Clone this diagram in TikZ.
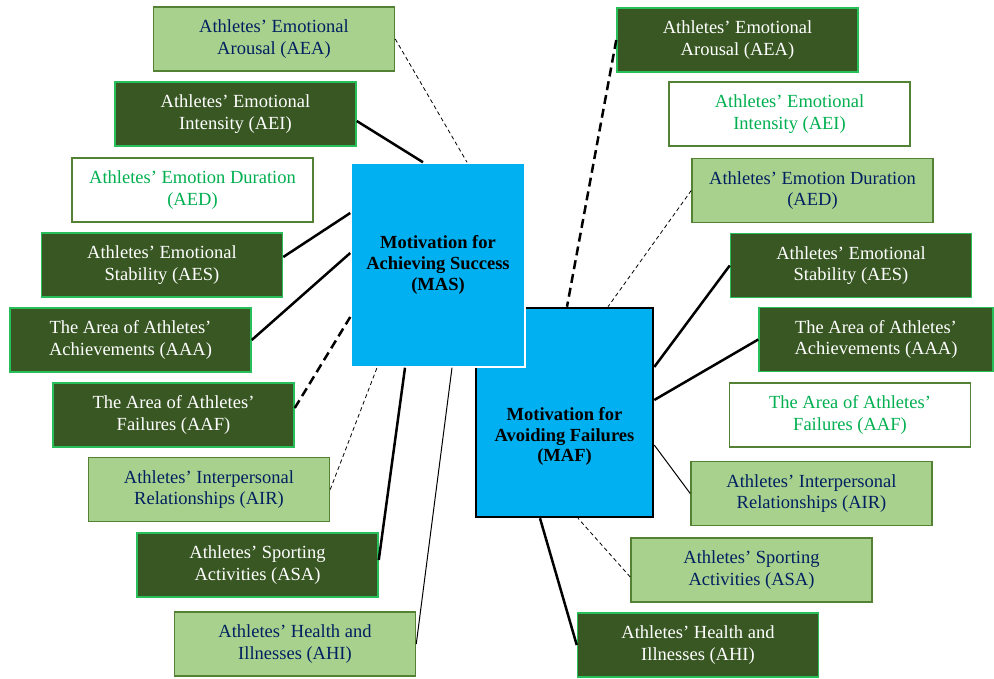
\documentclass[tikz,border=0pt]{standalone}
\usepackage{fontspec}
\setmainfont{Liberation Serif}
\definecolor{boxDark}{RGB}{56,87,35}
\definecolor{boxLight}{RGB}{169,209,142}
\definecolor{edgeBright}{RGB}{40,190,90}
\definecolor{edgeOlive}{RGB}{84,130,53}
\definecolor{inkNavy}{RGB}{0,32,96}
\definecolor{inkGreen}{RGB}{0,176,80}
\definecolor{coreBlue}{RGB}{0,176,240}
\tikzset{
  factor/.style={rectangle, minimum width=241pt, minimum height=64pt, inner sep=0pt, align=center, line width=1.5pt, font=\fontsize{18.5}{21.7}\selectfont},
  darkbox/.style={factor, draw=edgeBright, fill=boxDark, text=white},
  lightbox/.style={factor, draw=edgeOlive, fill=boxLight, text=inkNavy},
  plainbox/.style={factor, draw=edgeOlive, fill=white, text=inkGreen},
  corebox/.style={rectangle, inner sep=0pt, align=center, fill=coreBlue, font=\bfseries\fontsize{18.5}{20.8}\selectfont},
  strongline/.style={line width=2.5pt},
  weakline/.style={line width=1pt},
  strongdash/.style={line width=2.5pt, dash pattern=on 9pt off 5pt},
  weakdash/.style={line width=0.8pt, dash pattern=on 4pt off 3pt}
}

\begin{document}
\begin{tikzpicture}[x=1pt, y=-1pt]
  \useasboundingbox (0,0) rectangle (994,679);
  % core motives
  \node[corebox, draw=black, line width=2.5pt, minimum width=177pt, minimum height=209pt,
        label={[font=\bfseries\fontsize{18.5}{20.8}\selectfont, align=center, yshift=-24pt]center:Motivation for\\Avoiding Failures\\(MAF)}] (MAF) at (564.5,412.5) {};
  \node[corebox, draw=white, line width=1.5pt, minimum width=174pt, minimum height=204pt] (MAS) at (438,265) {Motivation for\\Achieving Success\\(MAS)};
  % left factors
  \node[lightbox] (lAEA) at (274,39) {Athletes’ Emotional\\Arousal (AEA)};
  \node[darkbox] (lAEI) at (235.5,114) {Athletes’ Emotional\\Intensity (AEI)};
  \node[plainbox] (lAED) at (192.5,190) {Athletes’ Emotion Duration\\(AED)};
  \node[darkbox] (lAES) at (162,265) {Athletes’ Emotional\\Stability (AES)};
  \node[darkbox] (lAAA) at (130.5,340) {The Area of Athletes’\\Achievements (AAA)};
  \node[darkbox] (lAAF) at (173.5,415) {The Area of Athletes’\\Failures (AAF)};
  \node[lightbox] (lAIR) at (209,489.5) {Athletes’ Interpersonal\\Relationships (AIR)};
  \node[darkbox] (lASA) at (257.5,565) {Athletes’ Sporting\\Activities (ASA)};
  \node[lightbox] (lAHI) at (295,644) {Athletes’ Health and\\Illnesses (AHI)};
  % right factors
  \node[darkbox] (rAEA) at (737.5,40) {Athletes’ Emotional\\Arousal (AEA)};
  \node[plainbox] (rAEI) at (789.5,114) {Athletes’ Emotional\\Intensity (AEI)};
  \node[lightbox] (rAED) at (812.5,190.5) {Athletes’ Emotion Duration\\(AED)};
  \node[darkbox] (rAES) at (851,265.5) {Athletes’ Emotional\\Stability (AES)};
  \node[darkbox, minimum width=234pt] (rAAA) at (876,339.5) {The Area of Athletes’\\Achievements (AAA)};
  \node[plainbox] (rAAF) at (850,415) {The Area of Athletes’\\Failures (AAF)};
  \node[lightbox] (rAIR) at (811.5,493.5) {Athletes’ Interpersonal\\Relationships (AIR)};
  \node[lightbox] (rASA) at (751.5,570) {Athletes’ Sporting\\Activities (ASA)};
  \node[darkbox] (rAHI) at (698,645) {Athletes’ Health and\\Illnesses (AHI)};
  % links to MAS
  \draw[weakdash] (lAEA.east) -- ([xshift=29pt]MAS.north);
  \draw[strongline] ([yshift=-7pt]lAEI.east) -- ([xshift=-15pt]MAS.north);
  \draw[strongline] ([yshift=8pt]lAES.east) -- ([yshift=52pt]MAS.west);
  \draw[strongline] (lAAA.east) -- ([yshift=12pt]MAS.west);
  \draw[strongdash] ([yshift=7pt]lAAF.east) -- ([yshift=-52pt]MAS.west);
  \draw[weakdash] (lAIR.east) -- ([xshift=-61pt]MAS.south);
  \draw[strongline] ([yshift=5pt]lASA.east) -- ([xshift=-33pt]MAS.south);
  \draw[weakline] (lAHI.east) -- ([xshift=14pt]MAS.south);
  % links to MAF
  \draw[strongdash] (rAEA.west) -- ([xshift=2.5pt]MAF.north);
  \draw[weakdash] (rAED.west) -- ([xshift=43.5pt]MAF.north);
  \draw[strongline] (rAES.west) -- ([yshift=45.5pt]MAF.east);
  \draw[strongline] (rAAA.west) -- ([yshift=12.5pt]MAF.east);
  \draw[weakline] (rAIR.west) -- ([yshift=-32.5pt]MAF.east);
  \draw[weakdash] ([yshift=-7pt]rASA.west) -- ([xshift=13.5pt]MAF.south);
  \draw[strongline] (rAHI.west) -- ([xshift=-24.5pt]MAF.south);
\end{tikzpicture}
\end{document}
